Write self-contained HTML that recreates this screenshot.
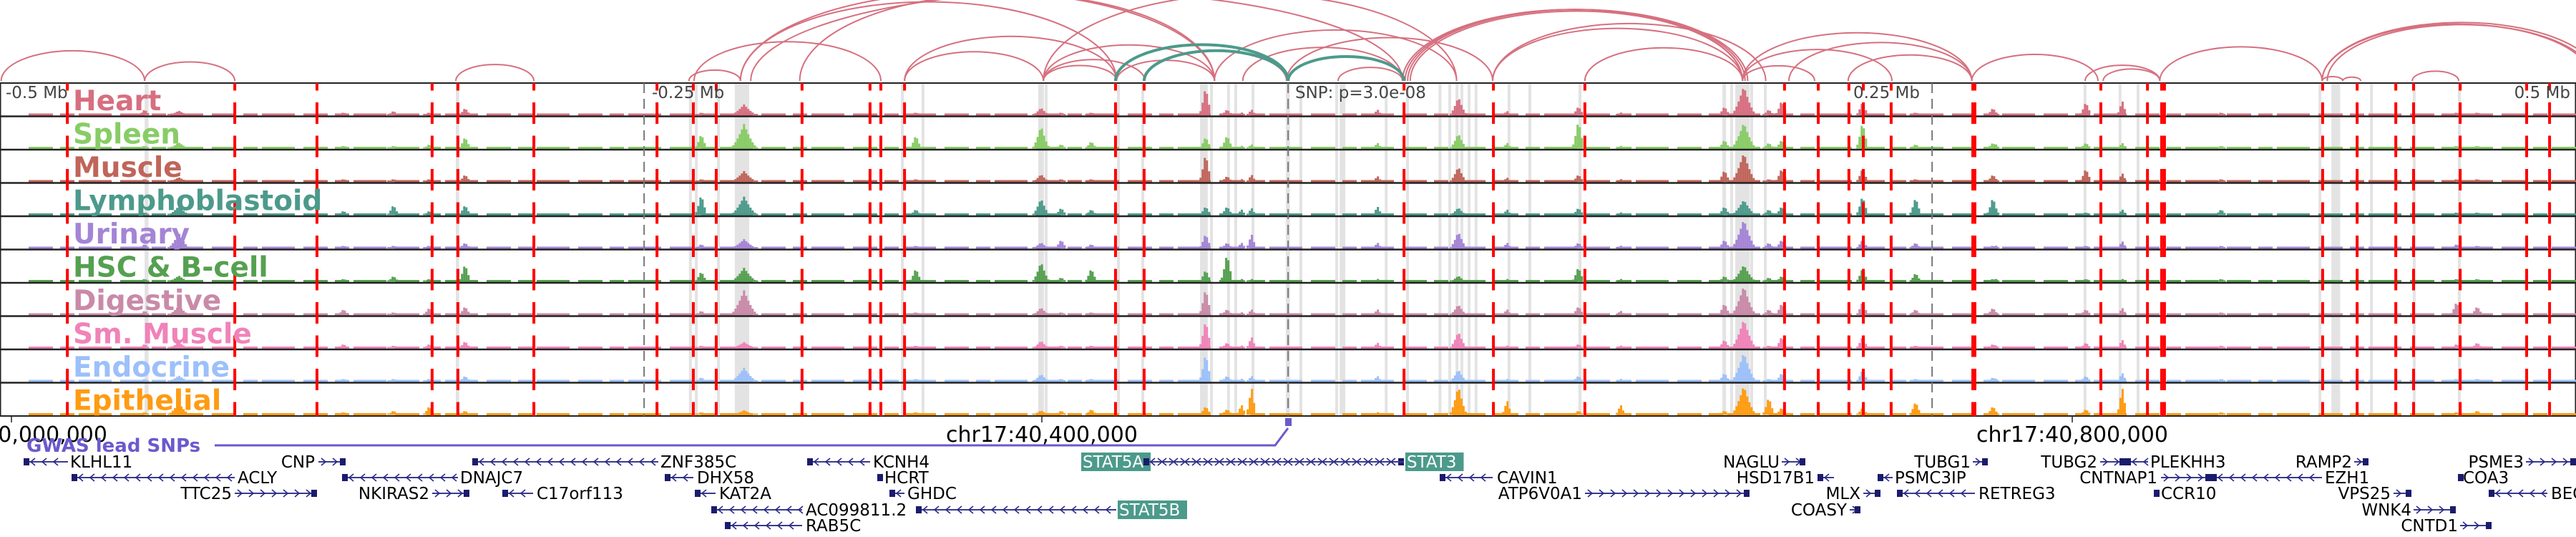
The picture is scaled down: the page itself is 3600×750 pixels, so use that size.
<!DOCTYPE html>
<html><head><meta charset="utf-8"><style>
html,body{margin:0;padding:0;background:#fff;width:3600px;height:750px;overflow:hidden}
svg{display:block;font-family:"DejaVu Sans","Liberation Sans",sans-serif}
</style></head><body>
<svg id="fig" width="3600" height="750" viewBox="0 0 3600 750" xmlns="http://www.w3.org/2000/svg">
<g id="arcs"></g>
<g id="bands"></g>
<g id="tracks"></g>
<g id="vlines"></g>
<g id="labels"></g>
<g id="axis"></g>
<g id="genes"></g>
</svg>
<script>
// ---------- data ----------
const trackNames = ["Heart","Spleen","Muscle","Lymphoblastoid","Urinary","HSC & B-cell","Digestive","Sm. Muscle","Endocrine","Epithelial"];
const trackColors = ["#d66f80","#88cc66","#c0655a","#4c9a8b","#a484d6","#55a050","#c98aa8","#f083b8","#9cc0fa","#ff9b12"];
const lociKb = [51.7,65,128.9,148.3,162.2,176.1,267.8,284.4,351.1,399.7,407.5,419.2,463.6,471.9,477.5,481.4,530.3,561.7,580.6,608.3,624.7,665,672.5,682.2,687.2,718.6,739.2,769.2,770.3,805.3,819.4,857.8,949.2,957.2];
const lociWidthKb = [2,4,2,2,2,2,2,5,2,3,2,2,2,2,1.5,1.5,1.5,3,1.5,2,1.5,2,4.5,2,2,2,2,2,1.5,2,1.5,2,2,2];
const heart = [.2,.15,.1,.15,.1,.25,.1,.35,.1,.25,.1,.1,.95,.2,.1,.2,.2,.6,.15,.3,.1,.3,.95,.2,.5,.45,.1,.25,.1,.45,.5,.1,.1,.1];
const spleen = [.1,.2,.1,.1,.15,.4,.5,.8,.45,.75,.15,.25,.4,.45,.1,.15,.2,.5,.2,.95,.1,.3,.85,.2,.3,.9,.15,.2,.15,.2,.2,.1,.1,.1];
const muscle = [.1,.15,.1,.1,.1,.25,.1,.35,.1,.25,.1,.1,.95,.2,.1,.25,.2,.5,.15,.25,.1,.4,.95,.1,.45,.45,.1,.25,.1,.45,.3,.1,.1,.1];
const lymph = [.1,.3,.15,.35,.15,.35,.7,.6,.2,.55,.25,.2,.3,.3,.2,.25,.3,.25,.2,.25,.1,.3,.5,.2,.3,.65,.6,.6,.2,.1,.2,.2,.1,.1];
const urinary = [.15,.5,.1,.1,.1,.2,.15,.3,.1,.2,.3,.15,.5,.2,.2,.5,.2,.55,.2,.2,.1,.3,.95,.2,.3,.3,.2,.1,.1,.1,.25,.1,.15,.1];
const hsc = [.1,.2,.1,.2,.1,.6,.35,.45,.45,.65,.15,.45,.4,.95,.1,.1,.1,.2,.1,.5,.1,.2,.55,.15,.2,.45,.3,.1,.1,.1,.1,.1,.1,.1];
const digestive = [.15,.3,.2,.1,.25,.3,.15,.8,.1,.25,.1,.1,.9,.2,.1,.2,.2,.35,.2,.3,.15,.4,.95,.2,.4,.45,.2,.25,.1,.2,.25,.1,.45,.3];
const smMuscle = [.15,.2,.15,.1,.15,.25,.1,.2,.1,.25,.1,.1,.95,.2,.1,.4,.2,.55,.1,.15,.1,.3,.95,.1,.4,.4,.1,.15,.1,.2,.3,.1,.15,.2];
const endocrine = [.1,.2,.1,.1,.1,.2,.15,.45,.1,.25,.1,.1,.95,.2,.1,.2,.2,.4,.1,.2,.1,.3,.95,.1,.3,.4,.1,.15,.1,.2,.3,.1,.1,.1];
const epithelial = [.1,.4,.1,.15,.3,.15,.1,.15,.1,.15,.15,.2,.3,.2,.35,.95,.1,.95,.5,.15,.35,.15,.95,.6,.25,.25,.45,.3,.1,.2,.95,.1,.1,.15];
const trackValues = [heart,spleen,muscle,lymph,urinary,hsc,digestive,smMuscle,endocrine,epithelial];
const snpKb = 495.6;
const redLinesKb = [21.7,86.7,118.6,163.3,173.3,202.8,250.6,264.7,273.6,306.9,333.3,337.5,346.7,428.6,439.7,540.6,575.3,610.8,688.3,701.4,713.3,718.9,729.7,761.4,762.2,811.1,829.2,834.7,835.8,897.2,910.6,925.6,932.5,950.6,976.4,985.3];
const bandStartKb = [51.7,172.5,263,265.3,273.9,280.8,345.3,353.3,398.6,401.1,429.2,438.6,461.4,465.3,471.9,474.7,481.4,494.7,500,513.9,515.6,533.1,541.4,554,557.8,560.6,562.5,565.3,568,580.8,588.9,608.3,664.2,667.2,669.2,675,680.3,804.4,818,825,895.6,900.6,915.6,932.2,949.7];
const bandWidthKb = [1.5,1.3,1,1,1,5.6,1,1,2.2,1,1,1,3,1,1,1,1,1.6,1,1,2.2,1,1,1,1,1,1,1,1,1,1,1.2,1.4,1,5.6,1,1,1,1,1,1,3.4,1,1,1];
const arcPairsKb = [[-4,51.7],[51.7,86.7],[172.5,202.8],[263,283],[265,337.5],[283,429],[283,467],[287,540],[306,467],[346.7,400.6],[346.7,429],[400.6,429],[400.6,440],[400.6,467],[400.6,561],[429,467],[440,495],[467,561],[478,540],[495,575],[515,540],[575,672],[575,681],[540,672],[541,673],[542,674],[543,672],[610.8,672],[672,700],[672,761],[672,730],[690,761],[713,761],[761,810],[805,834],[812,834],[834,897],[897,1005],[897,1002],[899,1003],[932,950],[897,905],[905,912]];
const greenArcsKb = [[428.6,495.6],[439.7,495.6],[495.6,540.6]];
const tickKb = [0,400,800];
const tickLabels = ["chr17:40,000,000","chr17:40,400,000","chr17:40,800,000"];

// ---------- scales ----------
const X0=16, PXKB=3.6;
function x(kb){return X0+kb*PXKB;}
const TOP=116, RH=46.5, NR=10;
const NS="http://www.w3.org/2000/svg";
function el(tag,attrs,parent){const e=document.createElementNS(NS,tag);for(const k in attrs)e.setAttribute(k,attrs[k]);parent.appendChild(e);return e;}

// arcs
const arcs=document.getElementById('arcs');
function drawArc(p,color,w){
  const a=x(p[0]),b=x(p[1]);const span=b-a;const h=Math.min(span*0.21,125);
  return el('path',{d:`M${a},113 A${span/2},${h} 0 0 1 ${b},113`,fill:'none',stroke:color,'stroke-width':w},arcs);
}
arcPairsKb.forEach(p=>{const e=drawArc(p,'#d6707f',2);

});
greenArcsKb.forEach(p=>{const e=drawArc(p,'#4c9a8b',4);

});

// bands
const bands=document.getElementById('bands');
bandStartKb.forEach((s,i)=>{const e=el('rect',{x:x(s),y:TOP,width:Math.max(bandWidthKb[i]*PXKB,4),height:RH*NR,fill:'#e3e3e3'},bands);

});

// tracks
const tracks=document.getElementById('tracks');
el('rect',{x:0.5,y:TOP,width:3599,height:RH*NR,fill:'none',stroke:'#222','stroke-width':2},tracks);
for(let t=0;t<NR;t++){
  const g=el('g',{},tracks);
  
  
  const base=TOP+(t+1)*RH-1.5;
  el('line',{x1:40,x2:3600,y1:base-1,y2:base-1,stroke:trackColors[t],'stroke-width':3,'stroke-dasharray':'34 10 20 6 46 12'},g);
  const vals=trackValues[t];
  lociKb.forEach((kb,i)=>{
    const cx=x(kb), w=lociWidthKb[i]*PXKB, hmax=vals[i]*43;
    for(let dx=-w;dx<=w;dx+=3){
      const f=Math.pow(Math.max(0,1-Math.abs(dx)/(w+3)),1.6);
      const hh=Math.max(2,hmax*f);
      el('rect',{x:cx+dx-1.5,y:base-hh,width:3,height:hh,fill:trackColors[t]},g);
    }
  });
  if(t>0) el('line',{x1:0,x2:3600,y1:TOP+t*RH,y2:TOP+t*RH,stroke:'#222','stroke-width':2.5},g);
}

// vertical lines
const vl=document.getElementById('vlines');
redLinesKb.forEach(kb=>{const e=el('line',{x1:x(kb),x2:x(kb),y1:TOP,y2:TOP+RH*NR,stroke:'#ff0000','stroke-width':4,'stroke-dasharray':'30 16.5','stroke-dashoffset':19.5},vl);

});
[snpKb-250,snpKb,snpKb+250].forEach(kb=>{const e=el('line',{x1:x(kb),x2:x(kb),y1:TOP,y2:TOP+RH*NR,stroke:'#777','stroke-width':2,'stroke-dasharray':'14 8'},vl);

});

// labels
const lab=document.getElementById('labels');
trackNames.forEach((n,t)=>{const e=el('text',{x:102,y:TOP+t*RH+38,fill:trackColors[t],'font-size':39,'font-weight':'bold'},lab);e.textContent=n;

});
const dl=[["-0.5 Mb",8,'start'],["-0.25 Mb",911,'start'],["SNP: p=3.0e-08",1810,'start'],["0.25 Mb",2590,'start'],["0.5 Mb",3592,'end']];
dl.forEach(d=>{const e=el('text',{x:d[1],y:137,fill:'#444','font-size':23,'text-anchor':d[2]},lab);e.textContent=d[0];

});

// axis
const ax=document.getElementById('axis');
tickKb.forEach((kb,i)=>{el('line',{x1:x(kb),x2:x(kb),y1:582,y2:590,stroke:'#222','stroke-width':1.5},ax);
const e=el('text',{x:x(kb),y:617,'font-size':30,'text-anchor':'middle',fill:'#000'},ax);e.textContent=tickLabels[i];

});
</script>
<script>
// gene track
const G=document.getElementById('genes');
function mk(tag,a){const e=document.createElementNS("http://www.w3.org/2000/svg",tag);for(const k in a)e.setAttribute(k,a[k]);G.appendChild(e);return e;}
const gw=mk('text',{x:37,y:631,fill:'#6a5acd','font-size':26,'font-weight':'bold'});gw.textContent='GWAS lead SNPs';


mk('polyline',{points:'300,622 1782,622 1800,598',fill:'none',stroke:'#6a5acd','stroke-width':3});
const sq=mk('rect',{x:1796,y:584,width:9,height:11,fill:'#6a5acd'});


const rowsY=[645,667,689,712,734];
const genes=[
["KLHL11",0,33,95,98,'start',-1,0],["CNP",0,445,483,440,'end',1,0],["ZNF385C",0,660,920,923,'start',-1,0],["KCNH4",0,1128,1216,1220,'start',-1,0],
["STAT5A",0,1598,1962,1511,'start',1,1],["STAT3",0,1598,1962,1964,'start',-1,1],["NAGLU",0,2490,2523,2487,'end',1,0],["TUBG1",0,2757,2778,2754,'end',1,0],
["TUBG2",0,2935,2970,2931,'end',1,0],["PLEKHH3",0,2970,3002,3005,'start',-1,0],["RAMP2",0,3290,3310,3287,'end',1,0],["PSME3",0,3530,3600,3527,'end',1,0],
["ACLY",1,100,328,332,'start',-1,0],["DNAJC7",1,478,640,643,'start',-1,0],["DHX58",1,929,969,974,'start',-1,0],["HCRT",1,1226,1229,1236,'start',-1,0],
["CAVIN1",1,2012,2086,2092,'start',-1,0],["HSD17B1",1,2540,2563,2536,'end',-1,0],["PSMC3IP",1,2624,2645,2648,'start',-1,0],["CNTNAP1",1,3020,3090,3015,'end',1,0],
["EZH1",1,3090,3245,3249,'start',-1,0],["COA3",1,3435,3438,3442,'start',-1,0],
["TTC25",2,328,443,324,'end',1,0],["NKIRAS2",2,604,656,600,'end',1,0],["C17orf113",2,702,745,750,'start',-1,0],["KAT2A",2,971,1000,1005,'start',-1,0],
["GHDC",2,1243,1264,1268,'start',-1,0],["ATP6V0A1",2,2215,2445,2211,'end',1,0],["MLX",2,2604,2628,2600,'end',1,0],["RETREG3",2,2651,2760,2765,'start',-1,0],
["CCR10",2,3010,3017,3020,'start',-1,0],["VPS25",2,3345,3370,3341,'end',1,0],["BECN1",2,3478,3560,3565,'start',-1,0],
["AC099811.2",3,994,1121,1126,'start',-1,0],["STAT5B",3,1280,1560,1562,'start',-1,1],["COASY",3,2585,2600,2581,'end',1,0],["WNK4",3,3373,3432,3370,'end',1,0],
["RAB5C",4,1013,1121,1126,'start',-1,0],["CNTD1",4,3438,3482,3435,'end',1,0]];
genes.forEach(g=>{
  const [n,r,a,b,lx,anc,dir,hl]=g;const y=rowsY[r];
  mk('line',{x1:a,x2:b,y1:y,y2:y,stroke:'#3a3a90','stroke-width':2});
  if(b-a>8){for(let p=a+10;p<b-4;p+=16){const d=-dir*6;
    mk('polyline',{points:`${p+d},${y-5} ${p},${y} ${p+d},${y+5}`,fill:'none',stroke:'#2a2a88','stroke-width':1.6});}}
  const bx=dir>0?b-8:a;mk('rect',{x:bx,y:y-5,width:8,height:10,fill:'#1b1b6e'});
  if(hl){const w=n.length*15.5+4;const rx=anc==='end'?lx-w:lx;
    mk('rect',{x:rx,y:y-13,width:w,height:26,fill:'#4c9a8b'});}
  const t=mk('text',{x:hl?lx+2:lx,y:y+8,'font-size':23,'text-anchor':anc,fill:hl?'#fff':'#000'});t.textContent=n;
  
  
});
</script>
</body></html>
